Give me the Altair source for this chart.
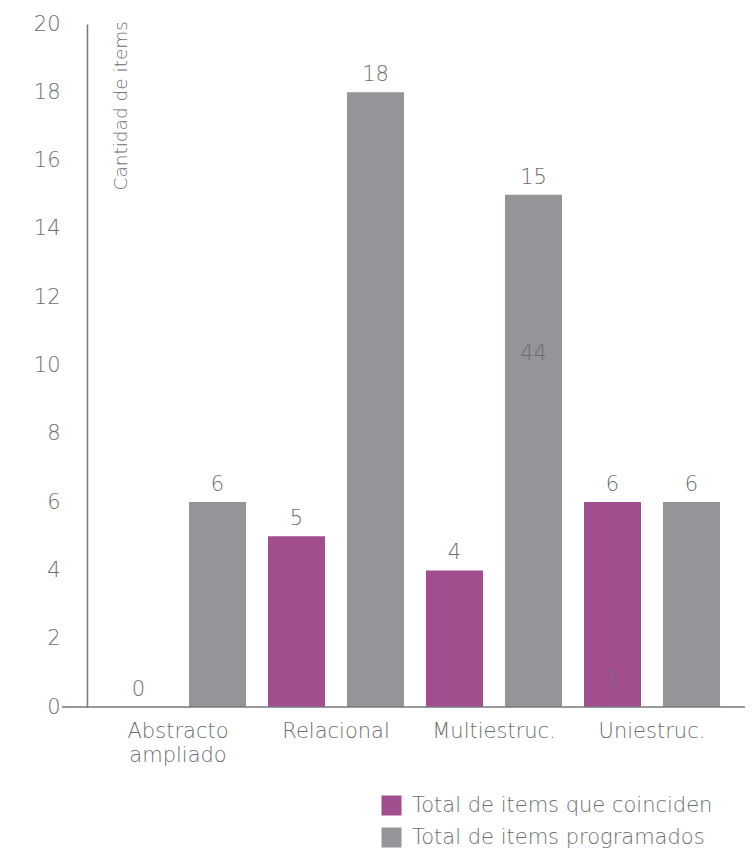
import altair as alt
import pandas as pd

# SOLO levels and item counts per series
categorias = ["Abstracto ampliado", "Relacional", "Multiestruc.", "Uniestruc."]
coinciden = [0, 5, 4, 6]
programados = [6, 18, 15, 6]
series = ["Total de items que coinciden", "Total de items programados"]
colores = ["#a24d8e", "#939598"]

# extra figures printed inside two of the bars
notas_categoria = ["Multiestruc.", "Uniestruc."]
notas_serie = ["Total de items programados", "Total de items que coinciden"]
notas_texto = ["44", "1"]
notas_valor = [10.35, 0.8]

rows = []
for c, a, b in zip(categorias, coinciden, programados):
    rows.append({"categoria": c, "serie": series[0], "valor": a})
    rows.append({"categoria": c, "serie": series[1], "valor": b})
df = pd.DataFrame(rows)
notas = pd.DataFrame({"categoria": notas_categoria, "serie": notas_serie,
                      "texto": notas_texto, "valor": notas_valor})

FONT = "DejaVu Sans"
WT = 300
TXT = "#6d6e71"
FS = 21
W, H = 656, 683

x_enc = alt.X("categoria:N", sort=categorias, title=None,
              scale=alt.Scale(paddingInner=0, paddingOuter=0.076),
              axis=alt.Axis(domain=False, ticks=False, labelAngle=0,
                            labelFontSize=FS, labelColor=TXT, labelFont=FONT,
                            labelFontWeight=WT, labelPadding=13,
                            labelExpr="split(datum.label, ' ')",
                            labelLineHeight=24))
xo_enc = alt.XOffset("serie:N", sort=series,
                     scale=alt.Scale(paddingInner=0.278, paddingOuter=0.139))
y_scale = alt.Scale(domain=[0, 20], nice=False)

bars = alt.Chart(df).mark_bar().encode(
    x=x_enc,
    xOffset=xo_enc,
    y=alt.Y("valor:Q", scale=y_scale, title=None,
            axis=alt.Axis(values=list(range(0, 21, 2)), grid=False, ticks=False,
                          tickSize=0, labelPadding=27, labelFontSize=FS,
                          labelColor=TXT, labelFont=FONT, labelFontWeight=WT,
                          domainColor="#77787b", domainWidth=1.5)),
    color=alt.Color("serie:N", sort=series,
                    scale=alt.Scale(domain=series, range=colores),
                    legend=alt.Legend(title=None, orient="none", legendX=294,
                                      legendY=771, symbolType="square",
                                      symbolSize=400, symbolStrokeWidth=0,
                                      labelFontSize=FS, labelFont=FONT,
                                      labelFontWeight=WT, labelColor=TXT,
                                      labelOffset=10, rowPadding=10,
                                      labelLimit=0)),
)

etiquetas = alt.Chart(df).mark_text(
    baseline="alphabetic", dy=-11, fontSize=FS, font=FONT, fontWeight=WT, color=TXT
).encode(
    x=alt.X("categoria:N", sort=categorias),
    xOffset=alt.XOffset("serie:N", sort=series),
    y=alt.Y("valor:Q", scale=y_scale),
    text=alt.Text("valor:Q"),
)

extra = alt.Chart(notas).mark_text(
    baseline="middle", fontSize=FS, font=FONT, fontWeight=WT, color="#6d6e71"
).encode(
    x=alt.X("categoria:N", sort=categorias),
    xOffset=alt.XOffset("serie:N", sort=series),
    y=alt.Y("valor:Q", scale=y_scale),
    text="texto:N",
)

# baseline running past the y axis on the left
base = alt.Chart(pd.DataFrame({"v": [0]})).mark_rule(
    color="#77787b", strokeWidth=1.5, clip=False
).encode(x=alt.value(-25), x2=alt.value(W + 2), y=alt.Y("v:Q", scale=y_scale))

titulo_y = alt.Chart(pd.DataFrame({"t": ["Cantidad de items"]})).mark_text(
    angle=270, align="right", baseline="middle", fontSize=18.5, font=FONT,
    fontWeight=WT, color=TXT
).encode(x=alt.value(34), y=alt.value(-3), text="t:N")

chart = alt.layer(bars, etiquetas, extra, base, titulo_y).properties(
    width=W, height=H,
    autosize=alt.AutoSizeParams(type="none"),
    padding={"left": 87, "top": 24, "right": 12, "bottom": 145},
).configure(background="white").configure_view(stroke=None)

chart.save("out.html", embed_options={"renderer": "svg", "actions": False})
